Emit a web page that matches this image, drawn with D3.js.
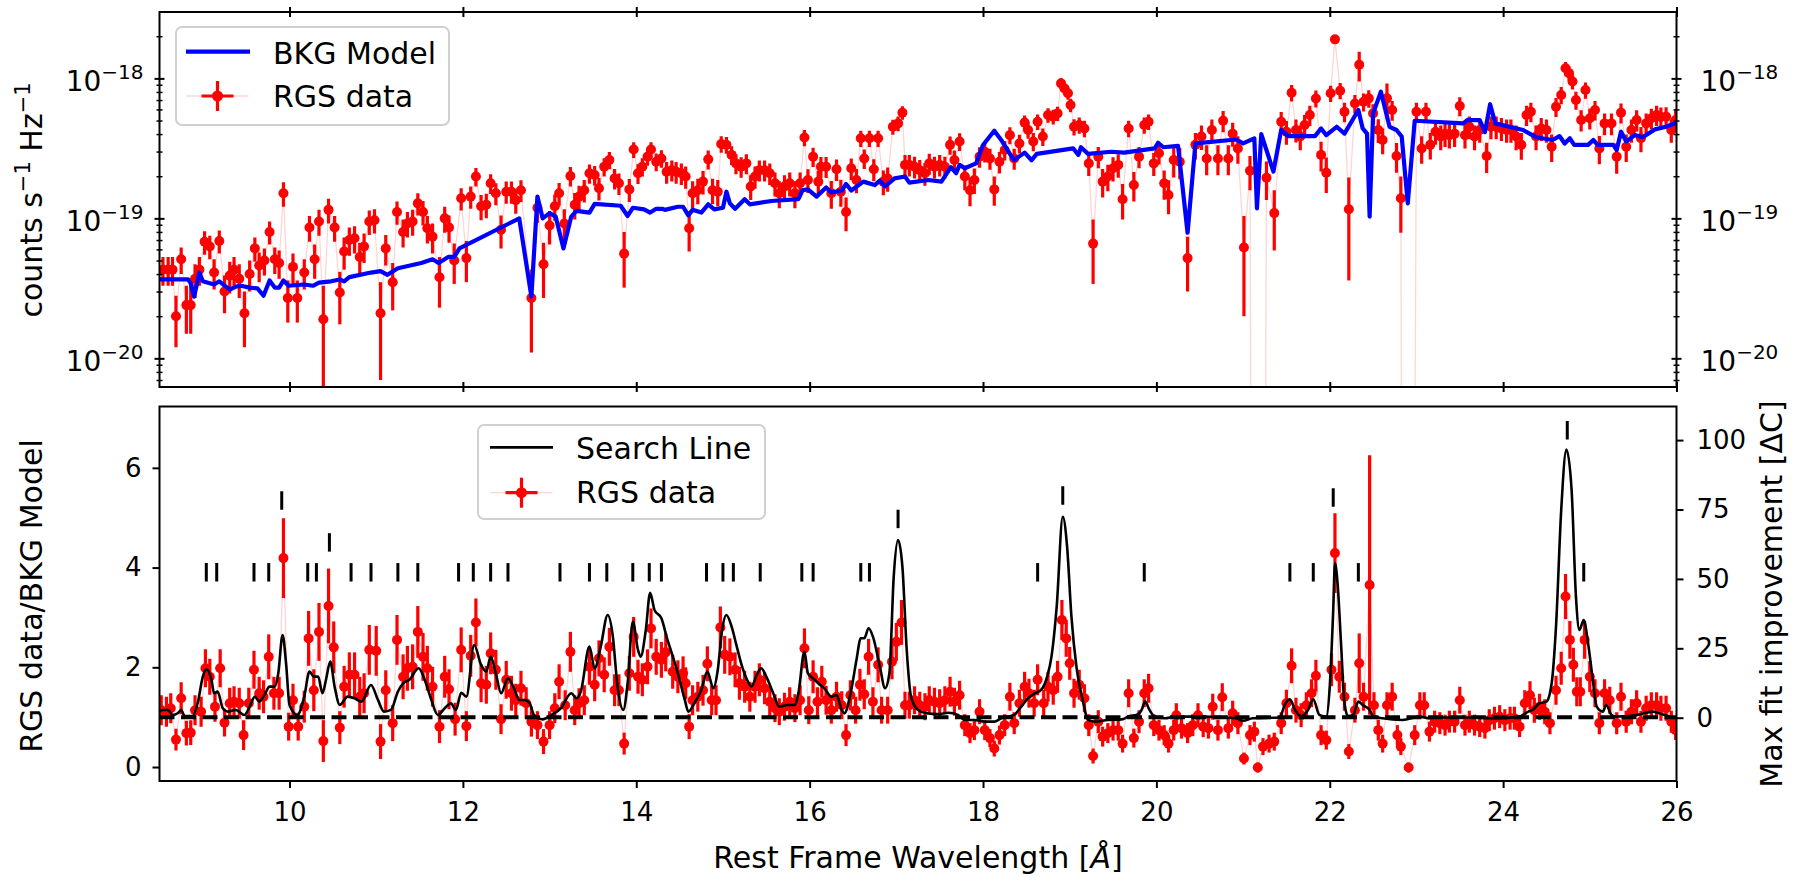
<!DOCTYPE html>
<html>
<head>
<meta charset="utf-8">
<script src="https://cdn.jsdelivr.net/npm/d3@7"></script>
<style>
  body { margin: 0; background: #fff; }
  text { font-family: "DejaVu Sans", sans-serif; fill: #000; }
</style>
</head>
<body>
<svg id="chart" width="1794" height="877"></svg>
<script>
// ---- data ----
// wavelength ticks [Angstrom]
var wavelengthTicks = [10, 12, 14, 16, 18, 20, 22, 24, 26];
// top panel: flux in units of 1e-20 counts s^-1 Hz^-1
var fluxTicks = [1, 10, 100];
var fluxTickExp = ["\u221220", "\u221219", "\u221218"];
var fluxMinorTicks = [0.7, 0.8, 0.9, 2, 3, 4, 5, 6, 7, 8, 9, 20, 30, 40, 50, 60, 70, 80, 90, 200];
var ratioTicks = [0, 2, 4, 6];
var deltaCTicks = [0, 25, 50, 75, 100];

// RGS data: [wavelength, flux, error]
var rgsFlux = [
  [8.54,4.3,1.0],[8.60,4.3,1.0],[8.65,4.3,1.0],[8.69,2.0,0.8],[8.75,5.1,1.1],[8.81,2.4,0.9],[8.86,2.4,0.9],
  [8.91,3.7,1.0],[8.96,4.3,1.0],[9.02,6.8,1.3],[9.08,6.3,1.2],[9.13,4.1,1.0],[9.19,6.9,1.3],[9.25,3.0,0.9],
  [9.31,3.9,1.0],[9.36,4.3,1.0],[9.42,3.7,1.0],[9.48,2.1,0.9],[9.54,4.0,1.0],[9.60,6.1,1.2],[9.65,4.6,1.1],
  [9.71,5.0,1.1],[9.77,8.0,1.5],[9.83,5.1,1.1],[9.88,4.8,1.1],[9.93,15.1,3.0],[9.98,2.7,0.9],[10.04,4.5,1.1],
  [10.09,2.7,0.9],[10.17,4.1,1.0],[10.23,8.6,1.8],[10.29,5.1,1.4],[10.34,9.5,2.0],[10.39,1.9,1.4],[10.45,11.5,2.3],
  [10.52,8.6,1.8],[10.58,2.95,1.2],[10.63,5.8,1.5],[10.69,7.0,1.6],[10.75,7.2,1.6],[10.81,5.3,1.4],[10.86,6.3,1.5],
  [10.92,9.5,1.9],[10.98,9.7,1.9],[11.05,2.1,1.4],[11.11,6.1,1.5],[11.19,3.5,1.3],[11.24,11.1,2.1],[11.31,8.0,1.8],
  [11.36,9.2,1.9],[11.42,9.5,2.0],[11.48,12.8,2.3],[11.54,11.1,2.2],[11.59,8.5,1.9],[11.65,7.4,1.8],[11.73,3.8,1.5],
  [11.79,10.0,2.1],[11.84,8.6,1.9],[11.90,5.0,1.6],[11.98,13.9,2.5],[12.04,5.2,1.7],[12.09,14.3,2.6],[12.15,19.9,3.0],
  [12.21,12.2,2.5],[12.27,12.5,2.5],[12.32,17.8,2.9],[12.38,15.1,2.7],[12.44,8.3,2.2],[12.50,15.5,2.8],[12.56,15.5,2.8],
  [12.61,13.5,2.7],[12.67,15.9,2.8],[12.79,2.7,1.6],[12.86,11.9,2.6],[12.93,4.7,2.0],[13.00,8.9,2.4],[13.06,12.2,2.6],
  [13.11,15.1,2.8],[13.17,9.2,2.4],[13.24,20.1,3.2],[13.29,12.5,2.7],[13.34,14.3,2.8],[13.40,15.9,2.9],[13.46,21.0,3.3],
  [13.52,20.4,3.3],[13.57,16.4,3.0],[13.63,23.4,3.5],[13.69,26.1,3.7],[13.75,19.3,3.2],[13.80,17.8,3.1],[13.86,5.6,2.4],
  [13.92,16.1,3.0],[13.97,31.0,4.0],[14.02,21.0,3.4],[14.07,23.4,3.5],[14.13,27.6,3.8],[14.17,31.0,4.0],[14.23,25.4,3.7],
  [14.29,26.8,3.8],[14.35,21.5,3.8],[14.41,22.1,3.8],[14.46,21.5,3.8],[14.52,21.0,3.7],[14.57,19.9,3.6],[14.61,8.5,2.7],
  [14.65,15.1,3.3],[14.71,15.9,3.3],[14.77,18.3,3.5],[14.83,26.4,4.1],[14.88,15.9,3.3],[14.94,15.5,3.3],[14.98,34.0,4.6],
  [15.04,33.5,4.6],[15.10,28.4,4.3],[15.15,24.7,4.0],[15.21,23.4,3.9],[15.27,24.7,4.0],[15.32,16.9,3.4],[15.37,19.9,3.6],
  [15.42,22.1,3.8],[15.48,22.1,3.8],[15.54,21.0,3.7],[15.60,17.8,3.5],[15.65,15.1,3.3],[15.71,16.9,3.4],[15.77,17.8,3.5],
  [15.83,15.1,3.3],[15.89,17.8,3.5],[15.94,37.8,5.0],[15.98,18.8,3.6],[16.04,27.6,4.3],[16.10,18.3,3.6],[16.13,23.4,4.0],
  [16.19,23.4,4.0],[16.25,15.1,3.4],[16.31,22.4,3.9],[16.36,15.5,3.4],[16.42,11.1,3.0],[16.48,22.8,4.0],[16.54,18.8,3.7],
  [16.59,37.3,5.0],[16.63,26.8,4.3],[16.69,37.3,5.0],[16.74,22.4,4.0],[16.79,37.3,5.0],[16.85,18.3,3.7],[16.90,19.3,3.8],
  [16.96,45.1,5.6],[17.02,47.7,5.8],[17.07,56.9,6.3],[17.10,24.1,4.2],[17.15,24.1,4.2],[17.21,23.4,4.1],[17.27,22.1,4.0],
  [17.33,21.0,3.9],[17.38,24.7,4.2],[17.44,23.4,4.1],[17.50,24.1,4.2],[17.56,23.4,4.1],[17.62,33.5,5.0],[17.67,26.1,4.4],
  [17.73,35.4,5.1],[17.79,19.9,4.0],[17.85,15.9,3.7],[17.90,18.8,3.9],[17.96,27.6,4.6],[18.02,29.9,4.8],[18.08,26.8,4.6],
  [18.13,16.1,3.8],[18.19,25.4,4.5],[18.25,30.8,4.9],[18.31,39.3,5.5],[18.36,26.8,4.6],[18.42,34.3,5.2],[18.48,48.3,6.1],
  [18.52,42.8,5.8],[18.58,35.4,5.3],[18.63,49.0,6.2],[18.69,38.4,5.5],[18.75,54.7,6.5],[18.81,53.3,6.4],[18.86,56.2,6.6],
  [18.90,92.1,8.5],[18.94,84.8,8.2],[18.98,78.2,7.9],[19.01,64.5,7.1],[19.05,45.1,6.0],[19.11,46.4,6.1],[19.17,43.9,6.0],
  [19.22,24.7,4.6],[19.27,6.6,3.2],[19.33,27.6,4.8],[19.38,18.3,4.2],[19.44,19.9,4.3],[19.50,22.8,4.5],[19.56,24.1,4.6],
  [19.61,13.7,3.9],[19.68,43.9,6.0],[19.74,17.3,4.1],[19.80,27.6,4.8],[19.86,46.4,6.2],[19.91,49.0,6.3],[19.97,24.7,4.6],
  [20.03,29.2,4.9],[20.09,17.8,4.2],[20.14,14.7,4.0],[20.20,26.1,6.5],[20.27,25.4,6.4],[20.36,5.2,2.2],[20.45,33.5,7.2],
  [20.52,38.4,7.6],[20.58,26.8,6.5],[20.64,42.8,8.0],[20.71,26.8,6.5],[20.77,49.8,8.6],[20.83,26.8,6.5],[20.88,40.3,7.8],
  [20.94,31.6,7.0],[21.01,6.2,4.2],[21.08,21.9,6.0],[21.17,-3.0,2.0],[21.27,19.5,6.0],[21.36,10.9,5.0],[21.44,49.0,8.6],
  [21.50,41.6,8.0],[21.56,79.0,10.5],[21.61,42.8,8.0],[21.66,38.4,7.7],[21.71,46.4,8.4],[21.77,54.7,9.0],[21.84,71.9,10.0],
  [21.90,28.4,6.8],[21.96,21.2,6.0],[22.01,78.2,10.5],[22.06,190,14],[22.12,81.7,10.8],[22.17,57.8,9.3],[22.22,11.6,8.0],
  [22.29,66.2,9.8],[22.34,125,30],[22.39,68.1,10],[22.45,72.0,10.2],[22.50,56.2,9.2],[22.56,42.8,8.2],[22.61,36.3,7.6],
  [22.66,72.0,20],[22.72,59.4,9.5],[22.77,27.9,6.7],[22.82,13.9,6.0],[22.88,-3.0,2.0],[23.00,57.8,9.3],[23.06,31.6,7.0],
  [23.11,57.8,9.3],[23.16,33.5,7.2],[23.22,41.6,8.0],[23.28,38.4,7.7],[23.33,40.3,7.9],[23.38,39.3,7.8],[23.44,40.3,7.9],
  [23.50,63.4,9.8],[23.56,39.3,7.8],[23.61,45.1,8.3],[23.67,38.4,7.7],[23.73,42.8,8.1],[23.81,27.9,6.8],[23.86,45.1,8.3],
  [23.92,45.1,8.3],[23.98,43.9,8.2],[24.04,42.8,8.1],[24.09,42.8,8.1],[24.15,38.4,7.7],[24.21,33.5,7.3],[24.27,54.7,9.1],
  [24.32,57.8,9.3],[24.38,38.4,7.7],[24.44,43.9,8.2],[24.50,42.8,8.1],[24.56,32.5,7.2],[24.61,62.7,9.7],[24.67,76,10.6],
  [24.72,118,13],[24.76,109,12.6],[24.80,95,11.8],[24.84,70,10.2],[24.90,50.4,8.7],[24.95,82.5,11],[25.00,51.9,8.8],
  [25.06,59.4,9.4],[25.11,31.6,7.2],[25.17,47.7,8.5],[25.25,47.7,8.5],[25.31,27.6,6.8],[25.36,56.9,9.2],[25.42,32.5,7.2],
  [25.48,42.8,8.1],[25.54,50.4,8.7],[25.59,37.3,7.6],[25.65,47.7,8.5],[25.71,51.9,8.8],[25.77,54.7,9.0],[25.82,53.0,8.9],
  [25.88,53.3,8.9],[25.94,42.8,8.1],[25.99,50.4,8.7]
];

// BKG model: [wavelength, flux]
var bkgModel = [
  [8.50,3.66],[8.83,3.66],[8.86,3.43],[8.90,2.76],[8.96,4.1],[9.00,3.55],[9.13,3.37],[9.19,3.55],[9.31,3.1],
  [9.38,3.25],[9.44,3.3],[9.54,3.2],[9.63,3.16],[9.70,2.8],[9.77,3.6],[9.83,3.2],[9.88,3.2],[9.93,3.6],[9.99,3.3],
  [10.17,3.37],[10.27,3.3],[10.34,3.47],[10.48,3.55],[10.58,3.66],[10.63,3.55],[10.69,3.8],[10.94,4.1],[11.05,4.2],
  [11.13,3.95],[11.25,4.4],[11.52,4.8],[11.65,5.1],[11.72,4.8],[11.83,5.3],[11.90,5.3],[11.96,6.1],[12.65,10.0],
  [12.79,2.76],[12.86,14.3],[12.92,10.0],[13.00,10.9],[13.07,10.3],[13.16,6.1],[13.25,10.3],[13.31,11.3],[13.46,11.0],
  [13.52,12.7],[13.82,12.3],[13.90,10.4],[13.96,11.9],[14.09,11.6],[14.16,11.0],[14.23,11.7],[14.30,11.7],[14.33,11.5],
  [14.48,12.1],[14.54,12.1],[14.60,10.5],[14.65,11.5],[14.75,11.0],[14.83,12.6],[14.90,11.6],[15.00,11.9],[15.04,15.5],
  [15.08,12.8],[15.14,11.7],[15.25,13.7],[15.31,12.6],[15.56,13.3],[15.87,13.7],[15.92,15.9],[15.98,16.1],[16.08,14.3],
  [16.19,16.6],[16.25,15.3],[16.37,15.8],[16.42,17.6],[16.48,15.8],[16.62,18.3],[16.75,17.3],[16.81,18.6],[16.87,16.9],
  [16.98,19.3],[17.10,19.9],[17.15,18.0],[17.37,18.8],[17.52,18.3],[17.63,23.2],[17.69,21.0],[17.73,24.1],[17.79,22.8],
  [17.92,24.7],[18.00,33.4],[18.13,42.3],[18.21,36.3],[18.33,27.6],[18.36,26.1],[18.48,29.5],[18.56,26.0],[18.62,28.9],
  [19.04,31.6],[19.10,28.4],[19.13,32.2],[19.21,28.9],[19.48,29.9],[19.63,29.5],[19.98,31.6],[20.02,34.7],[20.08,32.2],
  [20.25,32.9],[20.36,7.9],[20.45,34.3],[20.92,36.6],[21.00,34.3],[21.13,37.3],[21.16,11.8],[21.21,40.0],[21.35,21.6],
  [21.44,42.8],[21.52,38.7],[21.83,38.7],[21.90,43.9],[21.96,39.3],[22.08,45.1],[22.17,40.3],[22.33,59.4],[22.38,43.9],
  [22.43,40.3],[22.46,10.3],[22.50,56.2],[22.59,80.3],[22.69,45.1],[22.77,42.8],[22.83,38.4],[22.90,12.8],[22.98,49.8],
  [23.54,47.7],[23.59,50.4],[23.73,50.4],[23.79,41.3],[23.85,65.4],[23.91,47.7],[24.23,42.8],[24.38,38.0],[24.57,36.3],
  [24.65,38.7],[24.71,34.3],[24.77,37.3],[24.82,33.5],[24.98,33.5],[25.04,36.3],[25.09,33.5],[25.27,33.5],[25.31,30.8],
  [25.36,41.6],[25.42,35.4],[25.52,39.3],[25.61,38.0],[25.75,43.2],[25.88,45.1],[26.00,48.3]
];

// RGS data / BKG model: [wavelength, ratio, error]
var rgsRatio = [
  [8.52,1.14,0.3],[8.58,1.11,0.3],[8.63,1.18,0.3],[8.69,0.55,0.22],[8.75,1.38,0.32],[8.81,0.68,0.25],[8.86,0.69,0.25],
  [8.91,1.14,0.3],[8.98,1.11,0.3],[9.03,1.98,0.38],[9.08,1.81,0.36],[9.14,1.21,0.3],[9.20,1.98,0.38],[9.25,0.89,0.28],
  [9.31,1.28,0.31],[9.36,1.31,0.31],[9.42,1.28,0.31],[9.47,0.64,0.3],[9.53,1.28,0.31],[9.59,1.95,0.38],[9.65,1.48,0.33],
  [9.70,1.41,0.33],[9.76,2.21,0.45],[9.82,1.48,0.33],[9.88,1.48,0.33],[9.93,4.19,0.8],[9.99,0.81,0.28],[10.04,1.34,0.33],
  [10.10,0.81,0.28],[10.17,1.21,0.32],[10.22,2.58,0.55],[10.28,1.54,0.42],[10.34,2.71,0.58],[10.39,0.52,0.42],[10.45,3.23,0.75],
  [10.51,2.40,0.52],[10.58,0.79,0.33],[10.63,1.61,0.42],[10.69,1.85,0.45],[10.75,1.85,0.45],[10.81,1.41,0.4],[10.86,1.48,0.4],
  [10.92,2.35,0.5],[11.00,2.33,0.5],[11.05,0.51,0.35],[11.11,1.54,0.4],[11.19,0.88,0.36],[11.24,2.55,0.5],[11.31,1.81,0.45],
  [11.36,1.98,0.45],[11.42,2.01,0.45],[11.48,2.71,0.52],[11.54,2.21,0.48],[11.59,1.98,0.45],[11.65,1.61,0.4],[11.73,0.81,0.33],
  [11.79,1.81,0.42],[11.84,1.56,0.4],[11.91,0.96,0.33],[11.98,2.35,0.45],[12.04,0.82,0.3],[12.09,2.23,0.42],[12.15,2.90,0.48],
  [12.21,1.68,0.38],[12.27,1.65,0.38],[12.32,2.28,0.42],[12.38,1.95,0.4],[12.44,0.96,0.3],[12.50,1.75,0.38],[12.56,1.48,0.35],
  [12.61,1.34,0.33],[12.67,1.58,0.35],[12.73,1.28,0.32],[12.79,0.91,0.3],[12.86,0.84,0.28],[12.93,0.51,0.25],[13.00,0.84,0.28],
  [13.06,1.18,0.3],[13.11,1.71,0.35],[13.18,1.24,0.3],[13.24,2.31,0.4],[13.29,1.14,0.3],[13.34,1.28,0.3],[13.40,1.34,0.3],
  [13.46,2.01,0.36],[13.52,1.65,0.33],[13.57,2.18,0.36],[13.63,1.85,0.35],[13.69,2.41,0.38],[13.75,1.54,0.32],[13.80,1.54,0.32],
  [13.86,0.47,0.22],[13.92,1.88,0.35],[13.97,2.61,0.4],[14.02,1.81,0.34],[14.07,1.75,0.33],[14.13,2.01,0.35],[14.17,2.78,0.4],
  [14.23,2.21,0.36],[14.29,2.15,0.36],[14.34,2.30,0.38],[14.42,1.91,0.34],[14.48,1.81,0.33],[14.54,1.88,0.34],[14.57,1.68,0.32],
  [14.61,0.81,0.25],[14.65,1.34,0.3],[14.71,1.41,0.3],[14.77,1.54,0.31],[14.82,2.07,0.35],[14.87,1.34,0.3],[14.92,1.34,0.3],
  [14.97,2.80,0.42],[15.02,2.25,0.38],[15.08,2.21,0.37],[15.14,1.95,0.35],[15.19,1.68,0.33],[15.25,1.61,0.32],[15.31,1.41,0.3],
  [15.37,1.61,0.32],[15.42,1.75,0.33],[15.48,1.58,0.32],[15.54,1.31,0.29],[15.60,1.18,0.28],[15.65,1.11,0.27],[15.71,1.21,0.28],
  [15.77,1.31,0.29],[15.83,1.18,0.28],[15.89,1.34,0.3],[15.94,2.38,0.4],[15.99,1.14,0.28],[16.04,1.81,0.33],[16.09,1.31,0.29],
  [16.14,1.71,0.32],[16.19,1.34,0.29],[16.25,1.14,0.27],[16.31,1.41,0.3],[16.37,1.24,0.28],[16.42,0.64,0.22],[16.47,1.44,0.3],
  [16.53,1.14,0.27],[16.58,1.65,0.32],[16.63,1.46,0.3],[16.68,2.21,0.36],[16.73,1.31,0.29],[16.79,2.05,0.35],[16.83,1.14,0.27],
  [16.90,1.14,0.27],[16.95,2.11,0.35],[17.00,2.51,0.38],[17.06,2.90,0.45],[17.10,1.24,0.27],[17.15,1.24,0.27],[17.21,1.34,0.28],
  [17.27,1.24,0.27],[17.33,1.21,0.27],[17.38,1.34,0.28],[17.44,1.31,0.28],[17.50,1.28,0.28],[17.56,1.34,0.28],[17.62,1.51,0.3],
  [17.67,1.31,0.28],[17.73,1.44,0.29],[17.79,0.84,0.22],[17.85,0.68,0.2],[17.90,0.74,0.2],[17.96,1.11,0.25],[18.02,0.74,0.2],
  [18.08,0.58,0.18],[18.13,0.37,0.16],[18.19,0.64,0.19],[18.25,0.84,0.22],[18.31,1.41,0.28],[18.36,0.88,0.22],[18.42,1.28,0.27],
  [18.48,1.61,0.3],[18.53,1.48,0.29],[18.59,1.28,0.27],[18.63,1.75,0.31],[18.70,1.28,0.27],[18.75,1.61,0.3],[18.81,1.54,0.29],
  [18.86,1.81,0.32],[18.91,2.95,0.4],[18.96,2.58,0.37],[19.00,2.08,0.33],[19.05,1.48,0.29],[19.11,1.65,0.3],[19.17,1.38,0.28],
  [19.22,0.84,0.22],[19.27,0.22,0.15],[19.33,0.91,0.23],[19.38,0.61,0.2],[19.44,0.68,0.2],[19.50,0.74,0.21],[19.56,0.74,0.21],
  [19.61,0.47,0.18],[19.68,1.48,0.28],[19.74,0.58,0.19],[19.80,0.91,0.23],[19.86,1.48,0.28],[19.91,1.58,0.29],[19.97,0.84,0.22],
  [20.03,0.74,0.21],[20.09,0.64,0.2],[20.14,0.47,0.18],[20.20,0.74,0.21],[20.23,1.04,0.24],[20.29,0.78,0.21],[20.36,0.68,0.2],
  [20.42,0.84,0.22],[20.48,1.04,0.24],[20.54,0.81,0.21],[20.60,0.78,0.21],[20.65,1.21,0.26],[20.71,0.74,0.21],[20.76,1.40,0.28],
  [20.83,0.78,0.21],[20.88,1.08,0.25],[20.94,0.88,0.22],[21.01,0.17,0.12],[21.08,0.64,0.2],[21.13,0.71,0.2],[21.17,-0.01,0.1],
  [21.23,0.41,0.17],[21.30,0.47,0.18],[21.36,0.51,0.18],[21.44,0.88,0.22],[21.50,1.28,0.27],[21.56,2.03,0.35],[21.61,1.14,0.25],
  [21.67,1.04,0.24],[21.73,1.24,0.26],[21.79,1.48,0.28],[21.84,1.83,0.32],[21.90,0.64,0.2],[21.96,0.54,0.19],[22.02,1.95,0.33],
  [22.06,4.29,0.8],[22.11,1.81,0.32],[22.17,1.41,0.28],[22.22,0.31,0.15],[22.29,1.14,0.25],[22.34,2.08,0.6],[22.39,1.41,0.28],
  [22.46,3.65,2.6],[22.51,1.24,0.26],[22.56,0.74,0.21],[22.61,0.47,0.18],[22.66,1.24,0.26],[22.72,1.41,0.28],[22.78,0.64,0.2],
  [22.82,0.41,0.17],[22.91,-0.01,0.1],[22.98,0.64,0.2],[23.04,1.24,0.26],[23.09,1.24,0.26],[23.15,0.71,0.2],[23.21,0.91,0.22],
  [23.27,0.88,0.22],[23.33,0.84,0.21],[23.38,0.91,0.22],[23.44,0.91,0.22],[23.50,1.34,0.27],[23.56,0.84,0.21],[23.61,0.91,0.22],
  [23.67,0.84,0.21],[23.73,0.81,0.21],[23.79,0.78,0.21],[23.84,0.94,0.22],[23.90,0.98,0.23],[23.96,1.01,0.23],[24.02,0.94,0.22],
  [24.08,0.98,0.23],[24.13,0.98,0.23],[24.19,0.81,0.21],[24.25,1.28,0.26],[24.31,1.44,0.28],[24.36,1.14,0.25],[24.42,1.21,0.26],
  [24.48,1.11,0.25],[24.54,0.88,0.22],[24.61,1.54,0.29],[24.67,1.98,0.33],[24.72,3.42,0.45],[24.77,2.55,0.38],[24.81,2.05,0.34],
  [24.85,1.51,0.29],[24.89,1.51,0.29],[24.94,2.55,0.38],[25.00,1.81,0.31],[25.06,1.48,0.28],[25.11,0.88,0.22],[25.17,1.48,0.28],
  [25.23,1.34,0.27],[25.31,0.88,0.22],[25.36,1.41,0.28],[25.42,0.91,0.22],[25.48,1.11,0.25],[25.54,1.28,0.26],[25.59,0.91,0.22],
  [25.65,1.18,0.25],[25.71,1.24,0.26],[25.77,1.24,0.26],[25.82,1.18,0.25],[25.88,1.18,0.25],[25.94,0.91,0.22],[25.99,0.74,0.2]
];

// search line: [wavelength, max fit improvement dC]
var searchLine = [
  [8.50,2.2],[8.54,2.8],[8.60,2.8],[8.65,1.0],[8.71,1.6],[8.75,2.8],[8.79,0.6],[8.88,0.6],[8.94,5.2],[9.00,14.8],
  [9.04,17.4],[9.10,13.6],[9.13,8.8],[9.17,9.4],[9.23,3.4],[9.29,2.2],[9.38,2.8],[9.48,1.0],[9.54,4.0],[9.60,7.6],
  [9.65,5.8],[9.71,8.2],[9.77,11.2],[9.83,11.2],[9.87,16.0],[9.92,29.8],[9.96,19.6],[10.00,4.6],[10.09,1.0],[10.17,7.6],
  [10.23,16.6],[10.28,14.8],[10.33,14.8],[10.38,8.8],[10.42,13.6],[10.47,20.2],[10.52,11.2],[10.58,4.6],[10.67,7.6],[10.75,7.0],
  [10.83,5.8],[10.94,11.8],[11.02,6.4],[11.09,2.2],[11.17,2.8],[11.25,9.4],[11.31,12.4],[11.38,13.6],[11.49,17.8],[11.56,13.6],
  [11.63,7.0],[11.71,1.0],[11.79,3.4],[11.86,5.2],[11.92,2.8],[11.98,9.0],[12.04,7.6],[12.13,26.2],[12.21,19.0],[12.27,16.6],
  [12.32,22.0],[12.38,16.0],[12.44,8.8],[12.52,14.2],[12.59,10.6],[12.65,6.4],[12.71,6.4],[12.77,5.2],[12.82,1.0],[12.92,-0.6],
  [13.02,1.0],[13.13,3.4],[13.25,8.8],[13.31,7.0],[13.36,9.4],[13.46,25.6],[13.52,17.8],[13.59,25.6],[13.67,37.0],[13.73,29.2],
  [13.78,12.4],[13.85,2.8],[13.90,12.4],[13.96,34.6],[14.02,24.4],[14.05,22.0],[14.11,31.6],[14.16,45.0],[14.21,38.8],[14.29,35.8],
  [14.36,28.0],[14.41,23.2],[14.48,16.0],[14.56,6.4],[14.60,2.2],[14.67,5.2],[14.75,10.0],[14.82,16.6],[14.89,10.6],[14.94,17.2],
  [14.99,31.6],[15.04,37.0],[15.10,32.8],[15.15,26.8],[15.21,19.6],[15.27,14.2],[15.33,11.2],[15.39,15.4],[15.44,17.8],[15.50,14.8],
  [15.58,8.8],[15.65,4.0],[15.75,4.6],[15.83,4.6],[15.87,8.8],[15.94,23.8],[15.98,16.0],[16.04,14.2],[16.10,12.4],[16.17,10.6],
  [16.25,7.6],[16.31,8.2],[16.37,2.8],[16.40,1.6],[16.48,10.0],[16.54,20.8],[16.59,28.6],[16.63,28.6],[16.68,32.2],[16.73,29.2],
  [16.81,18.4],[16.87,10.6],[16.92,16.0],[16.97,50.8],[17.02,64.0],[17.07,54.4],[17.12,24.4],[17.17,7.6],[17.25,2.8],[17.35,1.6],
  [17.48,1.3],[17.60,1.8],[17.71,1.0],[17.79,-0.8],[17.90,-0.8],[18.02,-1.4],[18.13,-1.4],[18.21,-0.2],[18.29,0.4],[18.36,1.0],
  [18.44,4.0],[18.52,7.0],[18.60,8.8],[18.67,10.0],[18.74,14.8],[18.79,22.0],[18.85,40.0],[18.92,72.4],[18.97,61.6],[19.02,36.4],
  [19.08,17.8],[19.15,6.4],[19.21,-0.8],[19.29,-1.4],[19.44,-0.8],[19.60,-0.6],[19.69,0.6],[19.77,1.0],[19.83,2.8],[19.87,5.8],
  [19.92,2.8],[19.98,0.4],[20.10,-0.2],[20.21,0.4],[20.54,0.4],[20.92,-0.2],[21.00,-1.1],[21.11,-0.2],[21.42,0.1],[21.49,5.2],
  [21.54,6.6],[21.60,2.8],[21.67,0.6],[21.75,2.8],[21.81,6.6],[21.88,1.0],[21.96,0.4],[22.00,11.2],[22.04,38.8],[22.06,55.6],
  [22.09,48.4],[22.13,26.8],[22.17,5.2],[22.21,0.6],[22.27,1.0],[22.33,5.8],[22.38,4.6],[22.46,2.8],[22.50,0.6],[22.61,-0.2],
  [22.84,-0.8],[23.04,0.4],[23.15,-0.2],[23.23,0.1],[23.61,0.1],[23.92,-0.2],[24.19,0.4],[24.29,2.2],[24.34,2.8],[24.42,5.2],
  [24.50,5.8],[24.56,12.4],[24.61,32.8],[24.67,74.8],[24.73,96.6],[24.79,82.0],[24.84,43.6],[24.88,31.6],[24.93,35.2],[24.98,26.8],
  [25.03,14.8],[25.08,4.0],[25.15,2.2],[25.19,4.6],[25.25,1.0],[25.30,0.4],[25.54,1.0],[25.73,2.2],[25.80,1.6],[25.92,0.4],[26.00,-0.2]
];

// candidate line marks: [wavelength, lower end in ratio units]
var lineMarks = [
  [9.04,3.72],[9.16,3.72],[9.59,3.72],[9.76,3.72],[9.91,5.16],[10.21,3.72],[10.31,3.72],[10.46,4.32],[10.71,3.72],
  [10.94,3.72],[11.25,3.72],[11.48,3.72],[11.95,3.72],[12.12,3.72],[12.32,3.72],[12.52,3.72],[13.12,3.72],[13.46,3.72],
  [13.66,3.72],[13.96,3.72],[14.15,3.72],[14.29,3.72],[14.81,3.72],[15.00,3.72],[15.12,3.72],[15.43,3.72],[15.91,3.72],
  [16.04,3.72],[16.59,3.72],[16.69,3.72],[17.02,4.79],[18.63,3.72],[18.92,5.26],[19.86,3.72],[21.54,3.72],[21.81,3.72],
  [22.04,5.22],[22.33,3.72],[24.74,6.57],[24.93,3.72]
];

// ---- layout ----
var svgWidth = 1794;
var svgHeight = 877;
var plotLeft = 159.5, plotRight = 1676.5;
var top1 = 12, bottom1 = 387;        // upper panel
var top2 = 406.5, bottom2 = 781;     // lower panel

var red = "#ff0000", pink = "rgba(255,0,0,0.17)";
var dotR = 5, barW = 3.2;

var svg = d3.select("#chart");

var x = d3.scaleLinear().domain([8.5, 26]).range([plotLeft, plotRight]);
var yFlux = d3.scaleLog().domain([0.624, 298]).range([bottom1, top1]);
var yRatio = d3.scaleLinear().domain([-0.28, 7.23]).range([bottom2, top2]);
var yDC = d3.scaleLinear().domain([-22.8, 112.1]).range([bottom2, top2]);

var defs = svg.append("defs");
defs.append("clipPath").attr("id", "clipTop").append("rect")
  .attr("x", plotLeft).attr("y", top1).attr("width", plotRight - plotLeft).attr("height", bottom1 - top1);
defs.append("clipPath").attr("id", "clipBot").append("rect")
  .attr("x", plotLeft).attr("y", top2).attr("width", plotRight - plotLeft).attr("height", bottom2 - top2);

// flux to pixel, non-positive values go far below the panel
function fy(v) { return v > 0 ? yFlux(v) : bottom1 + 2000; }

// ===== upper panel =====
var gTop = svg.append("g").attr("clip-path", "url(#clipTop)");

gTop.append("path")
  .datum(rgsFlux)
  .attr("fill", "none").attr("stroke", pink).attr("stroke-width", 1.3)
  .attr("d", d3.line().x(d => x(d[0])).y(d => fy(d[1])));

gTop.selectAll(".ebar").data(rgsFlux.filter(d => d[1] + d[2] > 0)).enter()
  .append("line").attr("class", "ebar")
  .attr("x1", d => x(d[0])).attr("x2", d => x(d[0]))
  .attr("y1", d => fy(d[1] - d[2])).attr("y2", d => fy(d[1] + d[2]))
  .attr("stroke", red).attr("stroke-width", barW);

gTop.selectAll(".dot").data(rgsFlux.filter(d => d[1] > 0)).enter()
  .append("circle").attr("class", "dot")
  .attr("cx", d => x(d[0])).attr("cy", d => fy(d[1])).attr("r", dotR)
  .attr("fill", red);

gTop.append("path")
  .datum(bkgModel)
  .attr("fill", "none").attr("stroke", "#0000ff").attr("stroke-width", 4.2)
  .attr("stroke-linejoin", "round")
  .attr("d", d3.line().x(d => x(d[0])).y(d => yFlux(d[1])));

// axes of the upper panel (ticks point in and out)
var axT = svg.append("g").attr("transform", `translate(0,${top1})`)
  .call(d3.axisTop(x).tickValues(wavelengthTicks).tickSize(5).tickFormat(""));
var axB = svg.append("g").attr("transform", `translate(0,${bottom1})`)
  .call(d3.axisBottom(x).tickValues(wavelengthTicks).tickSize(5).tickFormat(""));
[axT, axB].forEach(a => {
  a.select(".domain").remove();
  a.selectAll(".tick line").attr("y1", -5).attr("y2", 5).attr("stroke-width", 2);
});

function logAxis(side) {
  var xPos = side === "left" ? plotLeft : plotRight;
  var ax = side === "left" ? d3.axisLeft(yFlux) : d3.axisRight(yFlux);
  var g = svg.append("g").attr("transform", `translate(${xPos},0)`);
  g.call(ax.tickValues(fluxMinorTicks).tickSize(3).tickFormat(""));
  g.selectAll(".tick line").attr("x1", -3).attr("x2", 3).attr("stroke-width", 1.5);
  var gm = svg.append("g").attr("transform", `translate(${xPos},0)`);
  gm.call(ax.tickValues(fluxTicks).tickSize(5).tickPadding(12).tickFormat(""));
  gm.selectAll(".tick line").attr("x1", -5).attr("x2", 5).attr("stroke-width", 2);
  gm.selectAll(".tick").each(function(d, i) {
    var t = d3.select(this).select("text")
      .attr("font-size", 28).attr("dy", 12)
      .attr("x", side === "left" ? -16 : 24)
      .attr("text-anchor", side === "left" ? "end" : "start");
    t.append("tspan").text("10");
    t.append("tspan").attr("font-size", 20).attr("dy", -12).text(fluxTickExp[i]);
  });
  g.select(".domain").remove();
  gm.select(".domain").remove();
}
logAxis("left");
logAxis("right");

svg.append("rect").attr("x", plotLeft).attr("y", top1)
  .attr("width", plotRight - plotLeft).attr("height", bottom1 - top1)
  .attr("fill", "none").attr("stroke", "#000").attr("stroke-width", 2);

// legend, upper panel
var leg1 = svg.append("g");
leg1.append("rect").attr("x", 176).attr("y", 27).attr("width", 273).attr("height", 98)
  .attr("rx", 6).attr("fill", "rgba(255,255,255,0.85)").attr("stroke", "#d0d0d0").attr("stroke-width", 2);
leg1.append("line").attr("x1", 186).attr("x2", 250).attr("y1", 51.7).attr("y2", 51.7)
  .attr("stroke", "#0000ff").attr("stroke-width", 4.2);
leg1.append("text").attr("x", 273).attr("y", 63.5).attr("font-size", 30).text("BKG Model");
function legendMarker(g, cx, cy) {
  g.append("line").attr("x1", cx - 31).attr("x2", cx + 31).attr("y1", cy).attr("y2", cy)
    .attr("stroke", pink).attr("stroke-width", 1.3);
  g.append("line").attr("x1", cx - 16).attr("x2", cx + 16).attr("y1", cy).attr("y2", cy)
    .attr("stroke", red).attr("stroke-width", barW);
  g.append("line").attr("x1", cx).attr("x2", cx).attr("y1", cy - 15).attr("y2", cy + 15)
    .attr("stroke", red).attr("stroke-width", barW);
  g.append("circle").attr("cx", cx).attr("cy", cy).attr("r", 5.5).attr("fill", red);
}
legendMarker(leg1, 217.5, 96);
leg1.append("text").attr("x", 273).attr("y", 107).attr("font-size", 30).text("RGS data");

// y label, upper panel
var yl1 = svg.append("text").attr("transform", "translate(42,200) rotate(-90)")
  .attr("text-anchor", "middle").attr("font-size", 30);
yl1.append("tspan").text("counts s");
yl1.append("tspan").attr("font-size", 21).attr("dy", -12).text("\u22121");
yl1.append("tspan").attr("dy", 12).text(" Hz");
yl1.append("tspan").attr("font-size", 21).attr("dy", -12).text("\u22121");

// ===== lower panel =====
var gBot = svg.append("g").attr("clip-path", "url(#clipBot)");

gBot.append("path")
  .datum(rgsRatio)
  .attr("fill", "none").attr("stroke", pink).attr("stroke-width", 1.3)
  .attr("d", d3.line().x(d => x(d[0])).y(d => yRatio(d[1])));

gBot.selectAll(".ebar").data(rgsRatio).enter()
  .append("line").attr("class", "ebar")
  .attr("x1", d => x(d[0])).attr("x2", d => x(d[0]))
  .attr("y1", d => yRatio(d[1] - d[2])).attr("y2", d => yRatio(d[1] + d[2]))
  .attr("stroke", red).attr("stroke-width", barW);

gBot.selectAll(".dot").data(rgsRatio).enter()
  .append("circle").attr("class", "dot")
  .attr("cx", d => x(d[0])).attr("cy", d => yRatio(d[1])).attr("r", dotR)
  .attr("fill", red);

gBot.append("line")
  .attr("x1", plotLeft).attr("x2", plotRight)
  .attr("y1", yRatio(1)).attr("y2", yRatio(1))
  .attr("stroke", "#000").attr("stroke-width", 4).attr("stroke-dasharray", "15,6.5");

gBot.append("path")
  .datum(searchLine)
  .attr("fill", "none").attr("stroke", "#000").attr("stroke-width", 2.6)
  .attr("stroke-linejoin", "round")
  .attr("d", d3.line().curve(d3.curveMonotoneX).x(d => x(d[0])).y(d => yDC(d[1])));

gBot.selectAll(".mark").data(lineMarks).enter()
  .append("line").attr("class", "mark")
  .attr("x1", d => x(d[0])).attr("x2", d => x(d[0]))
  .attr("y1", d => yRatio(d[1])).attr("y2", d => yRatio(d[1] + 0.37))
  .attr("stroke", "#000").attr("stroke-width", 3);

// axes of the lower panel
var axX = svg.append("g").attr("transform", `translate(0,${bottom2})`)
  .call(d3.axisBottom(x).tickValues(wavelengthTicks).tickSize(7).tickPadding(8).tickFormat(d3.format("d")));
var axL = svg.append("g").attr("transform", `translate(${plotLeft},0)`)
  .call(d3.axisLeft(yRatio).tickValues(ratioTicks).tickSize(7).tickPadding(11));
var axR = svg.append("g").attr("transform", `translate(${plotRight},0)`)
  .call(d3.axisRight(yDC).tickValues(deltaCTicks).tickSize(7).tickPadding(13));
[axX, axL, axR].forEach(a => {
  a.select(".domain").remove();
  a.selectAll(".tick line").attr("stroke-width", 2);
  a.selectAll("text").attr("font-size", 26).attr("font-family", "DejaVu Sans");
});
axX.selectAll("text").attr("dy", "0.98em");

svg.append("rect").attr("x", plotLeft).attr("y", top2)
  .attr("width", plotRight - plotLeft).attr("height", bottom2 - top2)
  .attr("fill", "none").attr("stroke", "#000").attr("stroke-width", 2);

// legend, lower panel
var leg2 = svg.append("g");
leg2.append("rect").attr("x", 478).attr("y", 425).attr("width", 287).attr("height", 94)
  .attr("rx", 6).attr("fill", "rgba(255,255,255,0.85)").attr("stroke", "#d0d0d0").attr("stroke-width", 2);
leg2.append("line").attr("x1", 490).attr("x2", 553).attr("y1", 447.3).attr("y2", 447.3)
  .attr("stroke", "#000").attr("stroke-width", 2.8);
leg2.append("text").attr("x", 576).attr("y", 458.5).attr("font-size", 30).text("Search Line");
legendMarker(leg2, 521.5, 492.7);
leg2.append("text").attr("x", 576).attr("y", 503.3).attr("font-size", 30).text("RGS data");

// axis labels
svg.append("text").attr("transform", "translate(42,596) rotate(-90)")
  .attr("text-anchor", "middle").attr("font-size", 30).text("RGS data/BKG Model");
svg.append("text").attr("transform", "translate(1782,594) rotate(-90)")
  .attr("text-anchor", "middle").attr("font-size", 30).text("Max fit improvement [\u0394C]");
var xl = svg.append("text").attr("x", (plotLeft + plotRight) / 2).attr("y", 868)
  .attr("text-anchor", "middle").attr("font-size", 30);
xl.append("tspan").text("Rest Frame Wavelength [");
xl.append("tspan").attr("font-style", "italic").text("\u00c5");
xl.append("tspan").text("]");
</script>
</body>
</html>
